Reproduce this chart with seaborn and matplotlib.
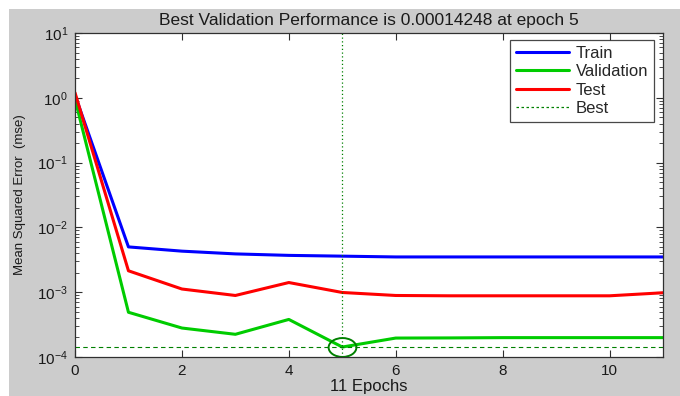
import numpy as np
import pandas as pd
import matplotlib
matplotlib.use("Agg")
import matplotlib.pyplot as plt
from matplotlib.patches import Rectangle
from matplotlib.path import Path
from matplotlib.transforms import Affine2D
from matplotlib.lines import Line2D
import seaborn as sns

# Training record: mean squared error per epoch
epochs = list(range(12))
train_mse = [1.10, 0.0050, 0.0043, 0.0039, 0.0037, 0.0036, 0.0035, 0.0035, 0.0035, 0.0035, 0.0035, 0.0035]
val_mse = [0.95, 0.00049, 0.00028, 0.000224, 0.00038, 0.00014248, 0.000196, 0.000197, 0.000199, 0.000199, 0.000199, 0.000199]
test_mse = [1.20, 0.00214, 0.00112, 0.00089, 0.00141, 0.00099, 0.00089, 0.00088, 0.00088, 0.00088, 0.00088, 0.00098]
best_epoch = 5
best_perf = 0.00014248
series_names = ["Train", "Validation", "Test"]
x_ticks = [0, 2, 4, 6, 8, 10]

sns.set_theme(style="white")
plt.rcParams["font.family"] = ["Liberation Sans", "DejaVu Sans"]
plt.rcParams["mathtext.fontset"] = "custom"
plt.rcParams["mathtext.rm"] = "Liberation Sans"
plt.rcParams["mathtext.it"] = "Liberation Sans"

df = pd.DataFrame({
    "epoch": epochs * 3,
    "mse": train_mse + val_mse + test_mse,
    "set": [n for n in series_names for _ in epochs],
})

fig = plt.figure(figsize=(6.8, 3.96), dpi=100, facecolor="white")
fig.patches.append(Rectangle((9 / 680, 0), 1 - 9 / 680, 387 / 396,
                             transform=fig.transFigure, facecolor="#cccccc",
                             edgecolor="none", zorder=-10))
ax = fig.add_axes([75 / 680, 39 / 396, 588 / 680, 324 / 396])
ax.set_facecolor("white")

palette = {"Train": "#0000ff", "Validation": "#00cc00", "Test": "#ff0000"}
sns.lineplot(data=df, x="epoch", y="mse", hue="set", hue_order=series_names,
             palette=palette, linewidth=2.2, ax=ax, legend=False)

best_color = "#008000"
ax.axvline(best_epoch, color=best_color, linestyle=(0, (1, 2)), linewidth=0.9)
ax.axhline(best_perf, color=best_color, linestyle=(0, (4, 3)), linewidth=0.8)

ellipse = Path.unit_circle().transformed(Affine2D().scale(1.0, 0.68))
ax.plot([best_epoch], [best_perf], marker=ellipse, markersize=20,
        markerfacecolor="none", markeredgecolor=best_color, markeredgewidth=1.4,
        linestyle="none")

ax.set_yscale("log")
ax.set_xlim(0, 11)
ax.set_ylim(1e-4, 10)
ax.set_xticks(x_ticks)

for side in ["left", "right", "top", "bottom"]:
    ax.spines[side].set_visible(True)
    ax.spines[side].set_color("#303030")
    ax.spines[side].set_linewidth(0.9)
ax.tick_params(which="major", direction="in", length=5, width=0.8, color="#303030",
               top=True, right=True, left=True, bottom=True, labelsize=11,
               labelcolor="#1a1a1a", pad=5)
ax.tick_params(which="minor", direction="in", length=3, width=0.6, color="#303030",
               left=True, right=True)
ax.yaxis.set_minor_locator(matplotlib.ticker.LogLocator(base=10, subs=np.arange(2, 10)))

ax.set_title(f"Best Validation Performance is {best_perf:.8f} at epoch {best_epoch}",
             fontsize=12.5, color="#1a1a1a", pad=6)
ax.set_xlabel(f"{len(epochs) - 1} Epochs", fontsize=12, color="#1a1a1a", labelpad=1)
ax.set_ylabel("Mean Squared Error  (mse)", fontsize=9.5, color="#1a1a1a", labelpad=8)

handles = [Line2D([], [], color=palette[n], linewidth=2.2) for n in series_names]
handles.append(Line2D([], [], color=best_color, linestyle=(0, (2, 2)), linewidth=0.9))
leg = ax.legend(handles, series_names + ["Best"], loc="upper right",
                bbox_to_anchor=(0.985, 0.978), fontsize=12, frameon=True,
                fancybox=False, handlelength=3.2, handletextpad=0.4,
                labelspacing=0.2, borderpad=0.35, borderaxespad=0)
leg.get_frame().set_edgecolor("#1a1a1a")
leg.get_frame().set_linewidth(0.9)

fig.savefig("out.png", dpi=100, facecolor=fig.get_facecolor())
